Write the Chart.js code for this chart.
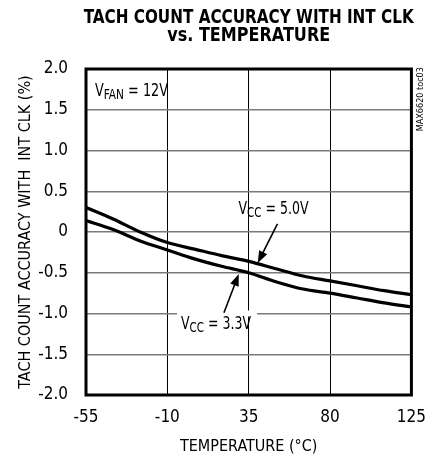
<!DOCTYPE html>
<html>
<head>
<meta charset="utf-8">
<script src="https://cdn.jsdelivr.net/npm/chart.js@4.4.1/dist/chart.umd.min.js"></script>
<style>
html, body { margin: 0; padding: 0; background: #fff; }
#wrap { width: 438px; height: 459px; }
</style>
</head>
<body>
<div id="wrap"><canvas id="tachChart" width="438" height="459"></canvas></div>
<script>
// values
const temps = [-55, -40, -25, -10, 5, 20, 35, 50, 65, 80, 95, 110, 125];
const vcc50 = [0.30, 0.16, 0.00, -0.13, -0.21, -0.29, -0.36, -0.45, -0.54, -0.60, -0.66, -0.72, -0.77];
const vcc33 = [0.14, 0.03, -0.11, -0.22, -0.33, -0.42, -0.50, -0.61, -0.70, -0.75, -0.81, -0.87, -0.92];
const xTicks = [-55, -10, 35, 80, 125];
const yTicks = [2.0, 1.5, 1.0, 0.5, 0, -0.5, -1.0, -1.5, -2.0];
const titleLines = ['TACH COUNT ACCURACY WITH INT CLK', 'vs. TEMPERATURE'];

const FONT = "'Liberation Sans Narrow', 'DejaVu Sans Condensed', 'Liberation Sans', sans-serif";
Chart.defaults.font.family = FONT;
Chart.defaults.color = '#000';

function drawArrow(ctx, x1, y1, x2, y2) {
    const ang = Math.atan2(y2 - y1, x2 - x1);
    const len = 12, half = 4.5;
    ctx.save();
    ctx.strokeStyle = '#000';
    ctx.fillStyle = '#000';
    ctx.lineWidth = 1.6;
    ctx.beginPath();
    ctx.moveTo(x1, y1);
    ctx.lineTo(x2 - Math.cos(ang) * len * 0.8, y2 - Math.sin(ang) * len * 0.8);
    ctx.stroke();
    ctx.beginPath();
    ctx.moveTo(x2, y2);
    ctx.lineTo(x2 - Math.cos(ang) * len - Math.sin(ang) * half, y2 - Math.sin(ang) * len + Math.cos(ang) * half);
    ctx.lineTo(x2 - Math.cos(ang) * len + Math.sin(ang) * half, y2 - Math.sin(ang) * len - Math.cos(ang) * half);
    ctx.closePath();
    ctx.fill();
    ctx.restore();
}

function subWidth(ctx, main, sub, rest) {
    ctx.save();
    ctx.font = `17px ${FONT}`;
    let w = ctx.measureText(main).width + ctx.measureText(rest).width;
    ctx.font = `14px ${FONT}`;
    w += ctx.measureText(sub).width;
    ctx.restore();
    return w;
}

// "V" + subscript + rest, squeezed to the given width, left edge x, middle y
function subLabel(ctx, x, y, width, main, sub, rest) {
    const full = subWidth(ctx, main, sub, rest);
    ctx.save();
    ctx.translate(x, y);
    ctx.scale(width / full, 1);
    ctx.fillStyle = '#000';
    ctx.textBaseline = 'middle';
    ctx.textAlign = 'left';
    ctx.font = `17px ${FONT}`;
    ctx.fillText(main, 0, 0);
    let w = ctx.measureText(main).width;
    ctx.font = `14px ${FONT}`;
    ctx.fillText(sub, w, 4);
    w += ctx.measureText(sub).width;
    ctx.font = `17px ${FONT}`;
    ctx.fillText(rest, w, 0);
    ctx.restore();
}

const decorPlugin = {
    id: 'decor',
    afterDraw(chart) {
        const ctx = chart.ctx;
        const a = chart.chartArea;
        const xs = chart.scales.x, ys = chart.scales.y;
        const px = v => xs.getPixelForValue(v);
        const py = v => ys.getPixelForValue(v);

        // frame
        ctx.save();
        ctx.strokeStyle = '#000';
        ctx.lineWidth = 3;
        ctx.strokeRect(a.left, a.top, a.right - a.left, a.bottom - a.top);
        ctx.restore();

        // title, condensed to the reference widths
        const cx = (a.left + a.right) / 2;
        const tw = [330, 163];
        const ty = [18, 36];
        ctx.save();
        ctx.fillStyle = '#000';
        ctx.textAlign = 'center';
        ctx.textBaseline = 'middle';
        ctx.font = `bold 20px ${FONT}`;
        titleLines.forEach((t, i) => {
            const w = ctx.measureText(t).width;
            ctx.save();
            ctx.translate(cx, ty[i]);
            ctx.scale(tw[i] / w, 1);
            ctx.fillText(t, 0, 0);
            ctx.restore();
        });
        ctx.restore();

        // V_FAN label
        subLabel(ctx, px(-50), py(1.72), 73, 'V', 'FAN', ' = 12V');

        // V_CC = 5.0V
        subLabel(ctx, px(48.7) - 35, py(0.28), 70, 'V', 'CC', ' = 5.0V');
        drawArrow(ctx, px(50.9), py(0.10), px(40), py(-0.38));

        // V_CC = 3.3V with a white gap in the grid line
        const lx = px(16.9) - 35;
        ctx.save();
        ctx.fillStyle = '#fff';
        ctx.fillRect(lx - 4, py(-1.0) - 3, 80, 6);
        ctx.restore();
        subLabel(ctx, lx, py(-1.13), 70, 'V', 'CC', ' = 3.3V');
        drawArrow(ctx, px(21.3), py(-0.99), px(29.5), py(-0.515));

        // figure code
        ctx.save();
        ctx.fillStyle = '#000';
        ctx.font = `9px ${FONT}`;
        ctx.textAlign = 'center';
        ctx.textBaseline = 'middle';
        ctx.translate(a.right + 9, py(1.63));
        ctx.rotate(-Math.PI / 2);
        ctx.fillText('MAX6620 toc03', 0, 0);
        ctx.restore();
    }
};

const lineStyle = {
    borderColor: '#000',
    borderWidth: 3.2,
    pointRadius: 0,
    fill: false,
    cubicInterpolationMode: 'monotone'
};

const config = {
    type: 'line',
    data: {
        datasets: [
            Object.assign({ label: 'VCC = 5.0V', data: temps.map((t, i) => ({ x: t, y: vcc50[i] })) }, lineStyle),
            Object.assign({ label: 'VCC = 3.3V', data: temps.map((t, i) => ({ x: t, y: vcc33[i] })) }, lineStyle)
        ]
    },
    options: {
        responsive: false,
        animation: false,
        layout: { padding: { top: 69, right: 24, left: 0, bottom: 0 } },
        plugins: {
            legend: { display: false },
            title: { display: false },
            tooltip: { enabled: false }
        },
        scales: {
            x: {
                type: 'linear',
                min: -55,
                max: 125,
                afterBuildTicks: s => { s.ticks = xTicks.map(v => ({ value: v })); },
                afterFit: s => { s.height = 64; },
                grid: { color: '#000', lineWidth: 1, drawTicks: false },
                border: { display: false },
                ticks: { font: { size: 17 }, padding: 12, maxRotation: 0, autoSkip: false },
                title: {
                    display: true,
                    text: 'TEMPERATURE (°C)',
                    font: { size: 16, lineHeight: 1 },
                    padding: { top: 0, bottom: 4 }
                }
            },
            y: {
                type: 'linear',
                min: -2,
                max: 2,
                afterBuildTicks: s => { s.ticks = yTicks.map(v => ({ value: v })); },
                afterFit: s => { s.width = 86; },
                grid: { color: '#7a7a7a', lineWidth: 1.5, drawTicks: false },
                border: { display: false },
                ticks: {
                    font: { size: 17 },
                    padding: 18,
                    autoSkip: false,
                    callback: v => (v === 0 ? '0' : v.toFixed(1))
                },
                title: {
                    display: true,
                    text: 'TACH COUNT ACCURACY WITH  INT CLK (%)',
                    font: { size: 16, lineHeight: 1 },
                    padding: { top: 18, bottom: 0 }
                }
            }
        }
    },
    plugins: [decorPlugin]
};

const ctx = document.getElementById('tachChart').getContext('2d');
if (ctx !== null) {
    const myChart = new Chart(ctx, config);
}
</script>
</body>
</html>
